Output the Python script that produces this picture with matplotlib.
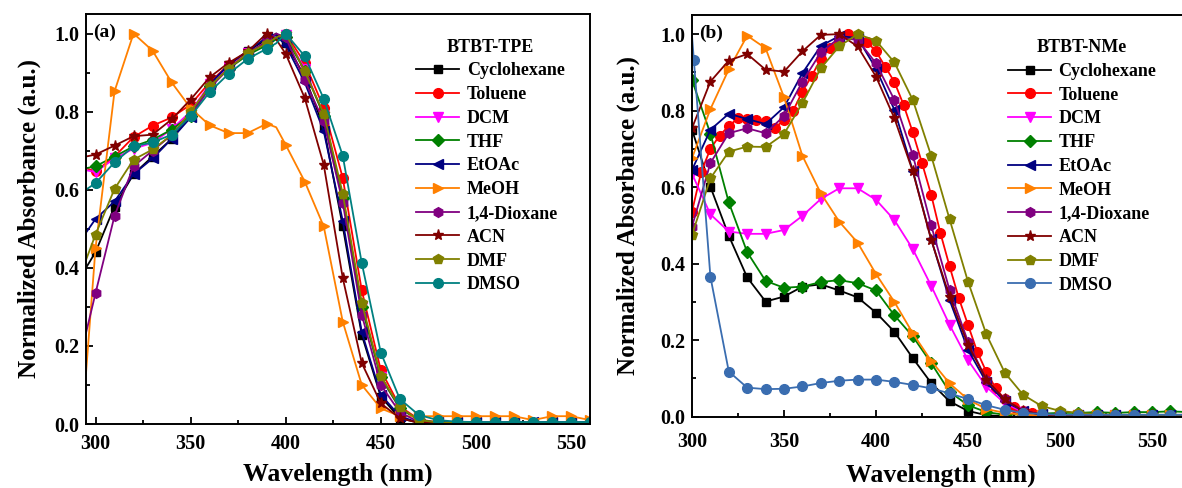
import matplotlib
matplotlib.use("Agg")
import matplotlib.pyplot as plt
from matplotlib.ticker import MultipleLocator

plt.rcParams['font.family'] = ['Liberation Serif', 'DejaVu Serif']
plt.rcParams['font.weight'] = 'bold'
plt.rcParams['axes.labelweight'] = 'bold'

solvents = ['Cyclohexane', 'Toluene', 'DCM', 'THF', 'EtOAc', 'MeOH',
            '1,4-Dioxane', 'ACN', 'DMF', 'DMSO']

# ---------------- Panel (a): BTBT-TPE ----------------
wl_a = [295, 300, 310, 320, 330, 340, 350, 360, 370, 380, 390, 395, 400, 410,
        420, 430, 440, 450, 460, 470, 480, 490, 500, 510, 520, 530, 540, 550, 560]
tpe_cyclohexane = [0.40, 0.44, 0.557, 0.64, 0.685, 0.73, 0.79, 0.87, 0.92, 0.955, 0.985, 1.0, 0.975, 0.89,
                   0.76, 0.506, 0.228, 0.07, 0.015, 0.003, 0.002, 0.002, 0.002, 0.002, 0.002, 0.002, 0.002, 0.002, 0.002]
tpe_toluene = [0.655, 0.647, 0.685, 0.735, 0.764, 0.785, 0.818, 0.875, 0.92, 0.95, 0.975, 0.99, 1.0, 0.925,
               0.81, 0.63, 0.342, 0.138, 0.045, 0.012, 0.004, 0.003, 0.003, 0.003, 0.003, 0.003, 0.003, 0.003, 0.003]
tpe_dcm = [0.65, 0.645, 0.68, 0.705, 0.72, 0.755, 0.80, 0.87, 0.915, 0.95, 0.975, 0.99, 0.995, 0.91,
           0.79, 0.58, 0.30, 0.12, 0.04, 0.01, 0.004, 0.003, 0.003, 0.003, 0.003, 0.003, 0.003, 0.003, 0.003]
tpe_thf = [0.655, 0.66, 0.685, 0.711, 0.728, 0.754, 0.79, 0.865, 0.91, 0.945, 0.97, 0.985, 0.99, 0.905,
           0.79, 0.58, 0.30, 0.12, 0.04, 0.01, 0.004, 0.003, 0.003, 0.003, 0.003, 0.003, 0.003, 0.003, 0.003]
tpe_etoac = [0.49, 0.525, 0.57, 0.64, 0.68, 0.73, 0.785, 0.87, 0.92, 0.955, 0.99, 0.995, 0.97, 0.875,
             0.75, 0.52, 0.235, 0.075, 0.02, 0.003, 0.005, 0.004, 0.005, 0.004, 0.005, 0.004, 0.005, 0.004, 0.005]
tpe_meoh = [0.13, 0.45, 0.852, 1.0, 0.956, 0.875, 0.809, 0.765, 0.745, 0.745, 0.769, 0.76, 0.715, 0.621,
            0.506, 0.262, 0.10, 0.04, 0.02, 0.02, 0.02, 0.02, 0.02, 0.02, 0.02, 0.01, 0.02, 0.02, 0.01]
tpe_dioxane = [0.233, 0.335, 0.533, 0.66, 0.70, 0.74, 0.79, 0.86, 0.91, 0.95, 0.98, 1.0, 0.99, 0.88,
               0.775, 0.567, 0.28, 0.10, 0.03, 0.005, 0.002, 0.002, 0.002, 0.002, 0.002, 0.002, 0.002, 0.002, 0.002]
tpe_acn = [0.685, 0.69, 0.713, 0.737, 0.741, 0.78, 0.831, 0.888, 0.925, 0.954, 1.0, 0.985, 0.948, 0.835,
           0.664, 0.374, 0.156, 0.053, 0.015, 0.003, 0.002, 0.002, 0.002, 0.002, 0.002, 0.002, 0.002, 0.002, 0.002]
tpe_dmf = [0.42, 0.485, 0.602, 0.677, 0.703, 0.74, 0.80, 0.865, 0.91, 0.95, 0.974, 0.99, 1.0, 0.903,
           0.795, 0.59, 0.311, 0.123, 0.043, 0.01, 0.004, 0.003, 0.003, 0.003, 0.003, 0.003, 0.003, 0.003, 0.003]
tpe_dmso = [0.60, 0.617, 0.67, 0.711, 0.721, 0.741, 0.788, 0.85, 0.897, 0.935, 0.961, 0.975, 1.0, 0.942,
            0.833, 0.687, 0.412, 0.183, 0.064, 0.023, 0.01, 0.006, 0.005, 0.005, 0.005, 0.005, 0.005, 0.005, 0.005]

# ---------------- Panel (b): BTBT-NMe ----------------
wl_b = [300, 310, 320, 330, 340, 350, 360, 370, 380, 390, 400, 410, 420, 430,
        440, 450, 460, 470, 480, 490, 500, 510, 520, 530, 540, 550, 560, 570]
nme_cyclohexane = [0.75, 0.601, 0.473, 0.364, 0.301, 0.314, 0.34, 0.346, 0.33, 0.312, 0.272, 0.222, 0.153, 0.088,
                   0.04, 0.015, 0.004, 0.001, 0.0, 0.0, 0.0, 0.0, 0.0, 0.0, 0.0, 0.0, 0.0, 0.0]
wl_b_toluene = [300, 305, 310, 315, 320, 325, 330, 335, 340, 345, 350, 355, 360, 365, 370, 375, 380, 385,
                390, 395, 400, 405, 410, 415, 420, 425, 430, 435, 440, 445, 450, 455, 460, 465, 470, 475,
                480, 485, 490, 500, 510, 520, 530, 540, 550, 560, 570]
nme_toluene = [0.536, 0.64, 0.70, 0.735, 0.76, 0.78, 0.778, 0.775, 0.772, 0.755, 0.775, 0.80, 0.85, 0.89,
               0.935, 0.965, 0.985, 1.0, 0.995, 0.98, 0.955, 0.915, 0.875, 0.815, 0.743, 0.663, 0.58, 0.48,
               0.393, 0.31, 0.24, 0.17, 0.117, 0.075, 0.045, 0.025, 0.015, 0.01, 0.006, 0.004, 0.004,
               0.004, 0.004, 0.004, 0.004, 0.004, 0.004]
nme_dcm = [0.635, 0.529, 0.484, 0.478, 0.478, 0.488, 0.525, 0.569, 0.597, 0.597, 0.567, 0.514, 0.438, 0.342,
           0.24, 0.148, 0.078, 0.035, 0.012, 0.005, 0.004, 0.004, 0.004, 0.004, 0.004, 0.004, 0.004, 0.004]
nme_thf = [0.88, 0.74, 0.56, 0.43, 0.355, 0.337, 0.34, 0.352, 0.357, 0.349, 0.33, 0.265, 0.21, 0.14,
           0.065, 0.03, 0.012, 0.005, 0.008, 0.008, 0.01, 0.01, 0.012, 0.01, 0.012, 0.012, 0.014, 0.012]
nme_etoac = [0.645, 0.75, 0.792, 0.778, 0.765, 0.809, 0.898, 0.969, 0.995, 0.99, 0.91, 0.802, 0.643, 0.464,
             0.305, 0.175, 0.09, 0.04, 0.015, 0.006, 0.004, 0.004, 0.004, 0.004, 0.004, 0.004, 0.004, 0.004]
nme_meoh = [0.676, 0.804, 0.908, 0.996, 0.963, 0.835, 0.682, 0.584, 0.51, 0.455, 0.373, 0.30, 0.218, 0.146,
            0.087, 0.045, 0.02, 0.01, 0.005, 0.004, 0.004, 0.004, 0.004, 0.004, 0.004, 0.004, 0.004, 0.004]
nme_dioxane = [0.497, 0.663, 0.741, 0.754, 0.741, 0.786, 0.876, 0.952, 0.99, 0.985, 0.924, 0.828, 0.684, 0.50,
               0.331, 0.196, 0.096, 0.045, 0.015, 0.005, 0.004, 0.004, 0.004, 0.004, 0.004, 0.004, 0.004, 0.004]
nme_acn = [0.754, 0.876, 0.931, 0.948, 0.907, 0.902, 0.955, 0.998, 1.0, 0.968, 0.889, 0.78, 0.641, 0.462,
           0.314, 0.188, 0.097, 0.045, 0.015, 0.005, 0.004, 0.004, 0.004, 0.004, 0.004, 0.004, 0.004, 0.004]
nme_dmf = [0.475, 0.623, 0.693, 0.706, 0.705, 0.739, 0.82, 0.911, 0.968, 1.0, 0.983, 0.926, 0.828, 0.682,
           0.516, 0.353, 0.215, 0.115, 0.057, 0.028, 0.015, 0.01, 0.007, 0.005, 0.005, 0.005, 0.005, 0.005]
wl_b_dmso = [300, 301, 310, 320, 330, 340, 350, 360, 370, 380, 390, 400, 410, 420, 430,
             440, 450, 460, 470, 480, 490, 500, 510, 520, 530, 540, 550, 560, 570]
nme_dmso = [0.995, 0.933, 0.366, 0.118, 0.076, 0.072, 0.073, 0.079, 0.088, 0.094, 0.097, 0.097, 0.091, 0.083,
            0.074, 0.061, 0.046, 0.03, 0.018, 0.01, 0.007, 0.005, 0.005, 0.005, 0.005, 0.005, 0.005, 0.005, 0.005]

colors = ['#000000', '#FF0000', '#FF00FF', '#008000', '#000080', '#FF8000',
          '#800080', '#800000', '#808000', '#008080']
dmso_b_color = '#3A6DB0'
markers = ['s', 'o', 'v', 'D', '<', '>', 'h', '*', 'p', 'o']
msizes = [6, 7, 7, 6, 7, 7, 7, 8, 7, 7]

fig = plt.figure(figsize=(11.82, 4.88), dpi=100)
axA = fig.add_axes([86 / 1182, 64 / 488, 504 / 1182, 410 / 488])
axB = fig.add_axes([692 / 1182, 71.3 / 488, 496.8 / 1182, 401.7 / 488])


def mark_idx(xs, step):
    return [i for i, x in enumerate(xs) if x % step == 0 and x >= 300]


series_a = [tpe_cyclohexane, tpe_toluene, tpe_dcm, tpe_thf, tpe_etoac, tpe_meoh,
            tpe_dioxane, tpe_acn, tpe_dmf, tpe_dmso]
for name, ys, c, m, ms in zip(solvents, series_a, colors, markers, msizes):
    axA.plot(wl_a, ys, color=c, lw=1.3, marker=m, ms=ms, mfc=c, mec=c,
             markevery=mark_idx(wl_a, 10), label=name)

series_b = [(wl_b, nme_cyclohexane, 10), (wl_b_toluene, nme_toluene, 5), (wl_b, nme_dcm, 10),
            (wl_b, nme_thf, 10), (wl_b, nme_etoac, 10), (wl_b, nme_meoh, 10),
            (wl_b, nme_dioxane, 10), (wl_b, nme_acn, 10), (wl_b, nme_dmf, 10),
            (wl_b_dmso, nme_dmso, None)]
colors_b = colors[:9] + [dmso_b_color]
for name, (xs, ys, step), c, m, ms in zip(solvents, series_b, colors_b, markers, msizes):
    if step is None:
        me = [i for i, x in enumerate(xs) if i > 0 and (x % 10 == 0 or x == 301)]
    else:
        me = mark_idx(xs, step)
    axB.plot(xs, ys, color=c, lw=1.3, marker=m, ms=ms, mfc=c, mec=c,
             markevery=me, label=name)

for ax, xlim, title, tag, anchor, ylc, xlc, xpad in [
        (axA, (295, 560), 'BTBT-TPE', '(a)', (0.655, 0.94), -0.090, -0.093, 7),
        (axB, (300, 570), 'BTBT-NMe', '(b)', (0.636, 0.94), -0.105, -0.116, 11)]:
    ax.set_xlim(*xlim)
    ax.set_ylim(0, 1.05)
    ax.xaxis.set_major_locator(MultipleLocator(50))
    ax.xaxis.set_minor_locator(MultipleLocator(25))
    ax.yaxis.set_major_locator(MultipleLocator(0.2))
    ax.yaxis.set_minor_locator(MultipleLocator(0.1))
    ax.yaxis.set_major_formatter(matplotlib.ticker.FormatStrFormatter('%.1f'))
    ax.tick_params(which='both', direction='in', top=False, right=False,
                   labelsize=14.5, width=1.3)
    ax.tick_params(axis='y', which='major', pad=5)
    ax.tick_params(axis='x', which='major', pad=xpad)
    ax.tick_params(which='major', length=5)
    ax.tick_params(which='minor', length=3)
    for sp in ax.spines.values():
        sp.set_linewidth(1.4)
    ax.set_xlabel('Wavelength (nm)', fontsize=18.5, fontweight='bold')
    ax.set_ylabel('Normalized Absorbance (a.u.)', fontsize=18, fontweight='bold')
    ax.yaxis.set_label_coords(ylc, 0.5)
    ax.xaxis.set_label_coords(0.5, xlc)
    ax.text(0.015, 0.955, tag, transform=ax.transAxes, fontsize=14,
            fontweight='bold', ha='left', va='center')
    leg = ax.legend(title=title, loc='upper left', bbox_to_anchor=anchor,
                    frameon=False, fontsize=13, title_fontsize=13,
                    handlelength=2.4, handletextpad=0.4, labelspacing=0.375,
                    borderpad=0, borderaxespad=0, numpoints=1)
    leg.get_title().set_fontweight('bold')

fig.savefig('out.png', dpi=100)
